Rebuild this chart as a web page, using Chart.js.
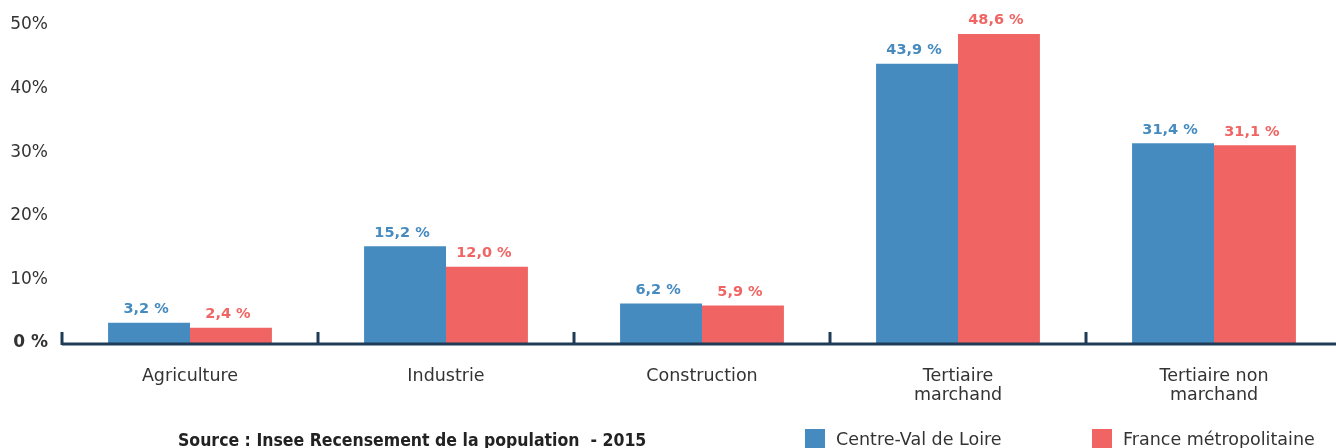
<!DOCTYPE html>
<html>
<head>
<meta charset="utf-8">
<script src="https://cdn.jsdelivr.net/npm/chart.js@4"></script>
<style>
  html, body { margin: 0; padding: 0; background: #fff; overflow: hidden; }
  #wrap { width: 1344px; height: 448px; }
</style>
</head>
<body>
<div id="wrap"><canvas id="myChart"></canvas></div>
<script>
// data
var categories = [["Agriculture"], ["Industrie"], ["Construction"], ["Tertiaire", "marchand"], ["Tertiaire non", "marchand"]];
var centreVal = [3.2, 15.2, 6.2, 43.9, 31.4];
var franceMetro = [2.4, 12.0, 5.9, 48.6, 31.1];
var seriesNames = ["Centre-Val de Loire", "France métropolitaine"];
var yTicks = [0, 10, 20, 30, 40, 50];
var sourceText = "Source : Insee Recensement de la population  - 2015";

var blue = '#458bbf';
var red = '#f06563';
var axisColor = '#1e3c57';
var fontFam = "'DejaVu Sans', sans-serif";

function fmt(v) {
    return v.toFixed(1).replace('.', ',') + ' %';
}

// value labels above each bar
var barLabels = {
    id: 'barLabels',
    afterDatasetsDraw: function(chart) {
        var ctx = chart.ctx;
        ctx.save();
        ctx.font = "bold 14.5px " + fontFam;
        ctx.textAlign = 'center';
        ctx.textBaseline = 'bottom';
        chart.data.datasets.forEach(function(ds, i) {
            var meta = chart.getDatasetMeta(i);
            ctx.fillStyle = ds.backgroundColor;
            meta.data.forEach(function(bar, j) {
                ctx.fillText(fmt(ds.data[j]), bar.x - 3, bar.y - 6);
            });
        });
        ctx.restore();
    }
};

// x axis line with upward ticks at category boundaries
var axisLine = {
    id: 'axisLine',
    afterDatasetsDraw: function(chart) {
        var ctx = chart.ctx;
        var x = chart.scales.x;
        var y0 = chart.scales.y.getPixelForValue(0);
        var step = x.width / categories.length;
        ctx.save();
        ctx.strokeStyle = axisColor;
        ctx.lineWidth = 3;
        ctx.beginPath();
        ctx.moveTo(x.left, y0 + 1);
        ctx.lineTo(x.right, y0 + 1);
        for (var i = 0; i <= categories.length; i++) {
            var px = Math.round(x.getPixelForValue(0) - step / 2 + i * step);
            ctx.moveTo(px, y0 + 2);
            ctx.lineTo(px, y0 - 11);
        }
        ctx.stroke();
        ctx.restore();
    }
};

// source note and legend along the bottom
var footer = {
    id: 'footer',
    afterDraw: function(chart) {
        var ctx = chart.ctx;
        ctx.save();
        ctx.textBaseline = 'middle';
        ctx.fillStyle = '#222';
        ctx.font = "bold 17.5px 'DejaVu Sans Condensed', " + fontFam;
        ctx.fillText(sourceText, 178, 441);
        var pos = [805, 1092];
        ctx.font = "17.5px " + fontFam;
        chart.data.datasets.forEach(function(ds, i) {
            ctx.fillStyle = ds.backgroundColor;
            ctx.fillRect(pos[i], 429, 20, 20);
            ctx.fillStyle = '#333';
            ctx.fillText(ds.label, pos[i] + 31, 440);
        });
        ctx.restore();
    }
};

var ctx = document.getElementById("myChart").getContext('2d');
var myChart = new Chart(ctx, {
    type: 'bar',
    data: {
        labels: categories,
        datasets: [
            { label: seriesNames[0], data: centreVal, backgroundColor: blue },
            { label: seriesNames[1], data: franceMetro, backgroundColor: red }
        ]
    },
    options: {
        responsive: true,
        maintainAspectRatio: false,
        animation: false,
        layout: { padding: { top: 25, right: 2, left: 0, bottom: 0 } },
        datasets: {
            bar: { categoryPercentage: 0.64, barPercentage: 1.0 }
        },
        plugins: {
            legend: { display: false },
            tooltip: { enabled: false }
        },
        scales: {
            x: {
                grid: { display: false },
                border: { display: false },
                ticks: {
                    color: '#333',
                    font: { family: fontFam, size: 17.5, lineHeight: 1.1 },
                    padding: 16,
                    maxRotation: 0
                },
                afterFit: function(scale) { scale.height = 105; }
            },
            y: {
                min: 0,
                max: 50,
                grid: { display: false },
                border: { display: false },
                afterBuildTicks: function(scale) {
                    scale.ticks = yTicks.map(function(v) { return { value: v }; });
                },
                ticks: {
                    color: '#333',
                    padding: 6,
                    font: function(c) {
                        if (c.tick && c.tick.value === 0) return { family: fontFam, size: 17, weight: 'bold' };
                        return { family: fontFam, size: 17 };
                    },
                    callback: function(v) { return v === 0 ? '0 %' : v + '%'; }
                },
                afterFit: function(scale) { scale.width = 62; }
            }
        }
    },
    plugins: [barLabels, axisLine, footer]
});
</script>
</body>
</html>
